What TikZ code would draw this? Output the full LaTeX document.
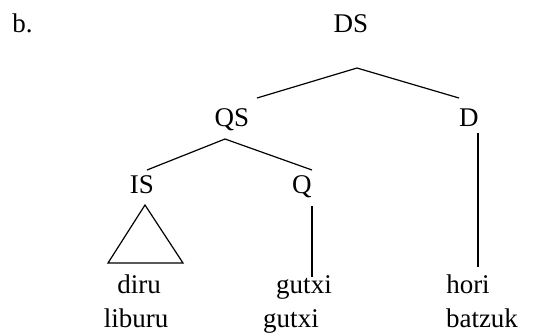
\documentclass[tikz,border=0pt]{standalone}
\usepackage{fontspec}
\setmainfont{Liberation Serif}
\usetikzlibrary{positioning}

\begin{document}
\begin{tikzpicture}[
    x=0.5pt, y=-0.5pt,
    cat/.style={inner sep=0pt, anchor=base, font=\fontsize{13.5}{16}\selectfont},
    branch/.style={line width=0.6pt, color=black},
]
\useasboundingbox (0,0) rectangle (543,334);

\node[cat,anchor=base west] (ex) at (12,32) {b.};
\node[cat] (ds) at (351,32) {DS};
\node[cat] (qs) at (232,126) {QS};
\node[cat] (d) at (469,126) {D};
\node[cat] (is) at (142,193) {IS};
\node[cat] (q) at (302,193) {Q};

\node[cat] (diru) at (139,293) {diru};
\node[cat] (gutxia) at (304,293) {gutxi};
\node[cat] (hori) at (468,293) {hori};
\node[cat] (liburu) at (136,327) {liburu};
\node[cat] (gutxib) at (291,327) {gutxi};
\node[cat] (batzuk) at (482,327) {batzuk};

\coordinate (ds-top) at (357,68);
\coordinate (qs-in) at (257,98);
\coordinate (d-in) at (459,98);
\coordinate (qs-top) at (225,139);
\coordinate (is-in) at (147,170);
\coordinate (q-in) at (312,170);
\coordinate (q-top) at (312,206);
\coordinate (q-foot) at (312,277);
\coordinate (d-top) at (478,133);
\coordinate (d-foot) at (478,267);
\coordinate (is-top) at (145,205);
\coordinate (is-left) at (108,263);
\coordinate (is-right) at (183,263);

\draw[branch] (qs-in) -- (ds-top) -- (d-in);
\draw[branch] (is-in) -- (qs-top) -- (q-in);
\draw[branch] (q-top) -- (q-foot);
\draw[branch] (d-top) -- (d-foot);
\draw[branch] (is-top) -- (is-left) -- (is-right) -- cycle;

\end{tikzpicture}
\end{document}
